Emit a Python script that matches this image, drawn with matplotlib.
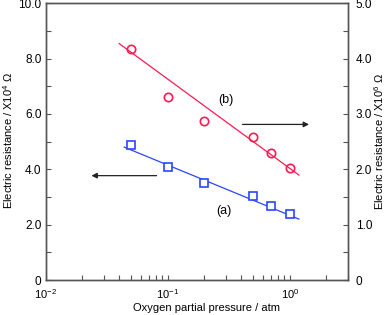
import numpy as np
import matplotlib
matplotlib.use("Agg")
import matplotlib.pyplot as plt
from matplotlib.ticker import FixedLocator, NullFormatter, LogLocator

plt.rcParams['font.family'] = ['Liberation Sans', 'DejaVu Sans']
plt.rcParams['mathtext.fontset'] = 'custom'
plt.rcParams['mathtext.rm'] = 'Liberation Sans'
plt.rcParams['mathtext.it'] = 'Liberation Sans'
plt.rcParams['mathtext.bf'] = 'Liberation Sans'
plt.rcParams['mathtext.default'] = 'rm'

# data
pressure = [0.05, 0.1, 0.2, 0.5, 0.7, 1.0]
res_a = [4.87, 4.07, 3.51, 3.03, 2.67, 2.38]      # x10^4 ohm (left axis)
res_b = [4.17, 3.30, 2.88, 2.58, 2.29, 2.03]      # x10^6 ohm (right axis)
fit_x = [0.044, 1.19]
fit_a = [4.80, 2.20]
fit_x_b = [0.040, 1.19]
fit_b = [4.27, 1.895]
left_ticks = [0, 2, 4, 6, 8, 10]
left_labels = ["0", "2.0", "4.0", "6.0", "8.0", "10.0"]
right_ticks = [0, 1, 2, 3, 4, 5]
right_labels = ["0", "1.0", "2.0", "3.0", "4.0", "5.0"]
x_ticks = [0.01, 0.1, 1]
x_labels = [r"10$^{-2}$", r"10$^{-1}$", r"10$^{0}$"]

red = "#ff1a4f"
blue = "#2b45ff"
spine_c = "#555555"
fs = 8.5
lfs = 8.0

W, H = 392, 315
fig = plt.figure(figsize=(W / 100, H / 100), dpi=100)
ax = fig.add_axes([0.1166, 0.111, 0.771, 0.879])
ax2 = ax.twinx()

ax.set_xscale('log')
ax.set_xlim(0.01, 3)
ax.set_ylim(0, 10)
ax2.set_ylim(0, 5)

ax.plot(fit_x, fit_a, color=blue, lw=0.9)
ax2.plot(fit_x_b, fit_b, color=red, lw=0.9)
ax.plot(pressure, res_a, 's', ms=5.5, mfc='white', mec=blue, mew=1.2)
ax2.plot(pressure, res_b, 'o', ms=6, mfc='none', mec=red, mew=1.2)

# arrows
ax.annotate("", xy=(0.0237, 3.77), xytext=(0.081, 3.77),
            arrowprops=dict(arrowstyle="-|>", color="#222222", lw=0.9,
                            mutation_scale=8, shrinkA=0, shrinkB=0))
ax2.annotate("", xy=(1.44, 2.81), xytext=(0.41, 2.81),
             arrowprops=dict(arrowstyle="-|>", color="#222222", lw=0.9,
                             mutation_scale=8, shrinkA=0, shrinkB=0))
ax.text(0.30, 6.5, "(b)", fontsize=fs + 0.5, ha='center', va='center')
ax.text(0.29, 2.5, "(a)", fontsize=fs + 0.5, ha='center', va='center')

# ticks
ax.yaxis.set_major_locator(FixedLocator(left_ticks))
ax.set_yticklabels(left_labels)
ax.yaxis.set_minor_locator(FixedLocator([1, 3, 5, 7, 9]))
ax2.yaxis.set_major_locator(FixedLocator(right_ticks))
ax2.set_yticklabels(right_labels)
ax2.yaxis.set_minor_locator(FixedLocator([0.5, 1.5, 2.5, 3.5, 4.5]))
ax.xaxis.set_major_locator(FixedLocator(x_ticks))
ax.set_xticklabels(x_labels)
ax.xaxis.set_minor_locator(LogLocator(base=10, subs=np.arange(2, 10)))
ax.xaxis.set_minor_formatter(NullFormatter())

for a in (ax, ax2):
    a.tick_params(which='both', direction='in', colors=spine_c, labelcolor='black',
                  labelsize=fs, width=0.8, length=3.8)
    for s in a.spines.values():
        s.set_color(spine_c)
        s.set_linewidth(1.0)
ax.tick_params(axis='x', which='both', top=False, pad=5, labelsize=8)
ax.tick_params(axis='y', which='both', right=False, pad=3)
ax2.tick_params(axis='y', which='both', left=False, right=True, pad=5.5)

# axis titles placed at reference pixel positions
fig.text(207 / W, 1 - 308 / H, "Oxygen partial pressure / atm", fontsize=lfs,
         ha='center', va='center')
fig.text(8 / W, 1 - 141 / H, "Electric resistance / X10$^4$ Ω", fontsize=lfs,
         ha='center', va='center', rotation=90)
fig.text(379 / W, 1 - 142 / H, "Electric resistance / X10$^6$ Ω", fontsize=lfs,
         ha='center', va='center', rotation=90)

fig.savefig("out.png", dpi=100)
